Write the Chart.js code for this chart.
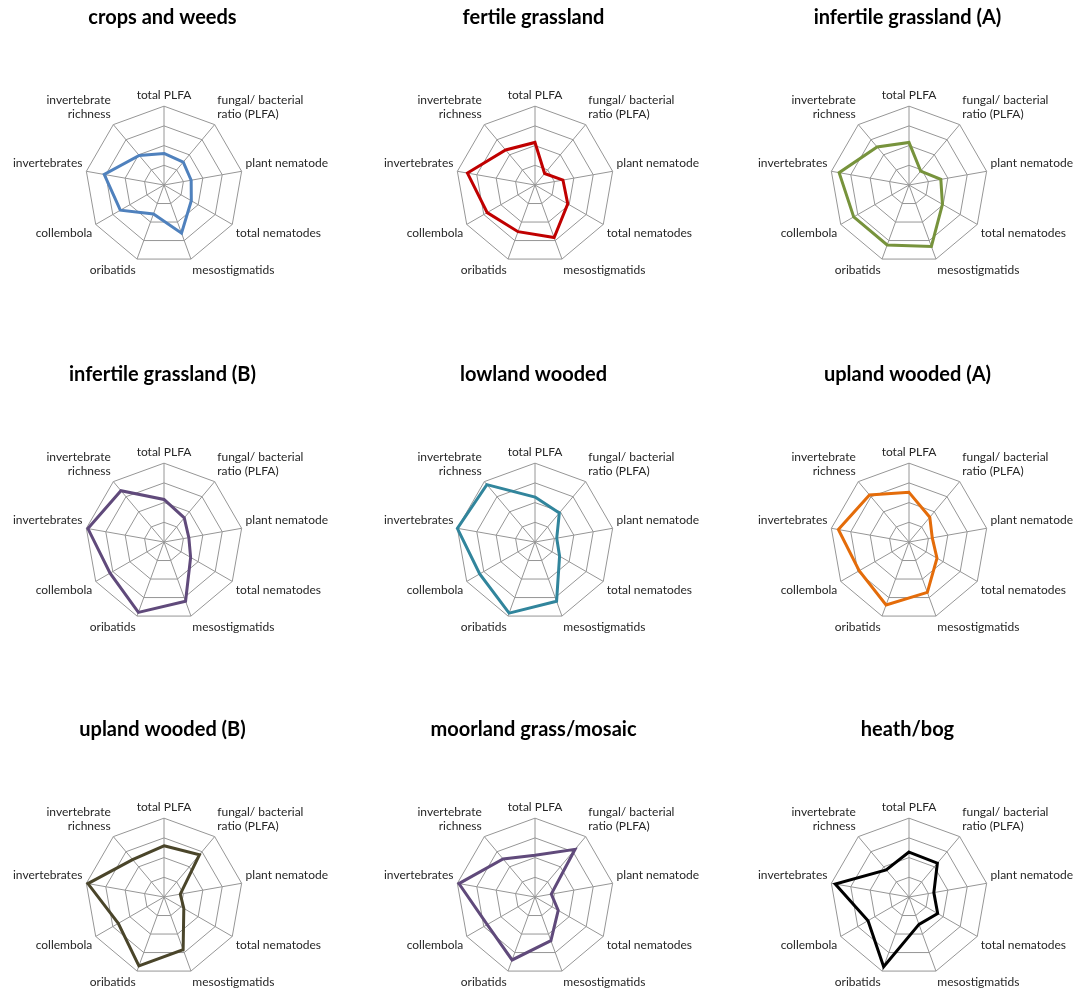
<!DOCTYPE html>
<html>
<head>
<meta charset="utf-8">
<script src="https://cdn.jsdelivr.net/npm/chart.js@4.4.0/dist/chart.umd.min.js"></script>
<style>
  html, body { margin: 0; padding: 0; background: #fff; overflow: hidden; }
  #page { position: relative; width: 1077px; height: 988px; overflow: hidden; }
  .cell { position: absolute; width: 359px; height: 350px; }
</style>
</head>
<body>
<div id="page"></div>
<script>
// axis names, clockwise from the top
const axisLabels = [
  'total PLFA',
  ['fungal/ bacterial', 'ratio (PLFA)'],
  'plant nematode',
  'total nematodes',
  'mesostigmatids',
  'oribatids',
  'collembola',
  'invertebrates',
  ['invertebrate', 'richness']
];

// values (scale 0..1)
const cropsAndWeeds      = [0.40, 0.38, 0.35, 0.40, 0.65, 0.39, 0.64, 0.77, 0.49];
const fertileGrassland   = [0.54, 0.19, 0.36, 0.48, 0.71, 0.63, 0.70, 0.87, 0.58];
const infertileGrassA    = [0.54, 0.23, 0.41, 0.49, 0.83, 0.81, 0.81, 0.90, 0.63];
const infertileGrassB    = [0.54, 0.40, 0.32, 0.39, 0.80, 0.95, 0.79, 0.98, 0.85];
const lowlandWooded      = [0.57, 0.48, 0.28, 0.36, 0.80, 0.96, 0.81, 1.00, 0.95];
const uplandWoodedA      = [0.63, 0.41, 0.30, 0.41, 0.68, 0.85, 0.73, 0.91, 0.78];
const uplandWoodedB      = [0.65, 0.70, 0.21, 0.29, 0.71, 0.93, 0.67, 0.98, 0.62];
const moorlandGrass      = [0.53, 0.79, 0.21, 0.34, 0.59, 0.85, 0.70, 0.98, 0.63];
const heathBog           = [0.57, 0.56, 0.32, 0.42, 0.37, 0.94, 0.60, 0.95, 0.45];

const titles = [
  'crops and weeds', 'fertile grassland', 'infertile grassland (A)',
  'infertile grassland (B)', 'lowland wooded', 'upland wooded (A)',
  'upland wooded (B)', 'moorland grass/mosaic', 'heath/bog'
];
const seriesList = [
  cropsAndWeeds, fertileGrassland, infertileGrassA,
  infertileGrassB, lowlandWooded, uplandWoodedA,
  uplandWoodedB, moorlandGrass, heathBog
];
const colors = [
  '#4F81BD', '#C00000', '#77933C',
  '#604A7B', '#31859C', '#E46C0A',
  '#4A452A', '#604A7B', '#000000'
];

const colLeft = [-17, 354, 728];
const rowTop = [3, 360, 715];

const page = document.getElementById('page');

for (let i = 0; i < 9; i++) {
  const div = document.createElement('div');
  div.className = 'cell';
  div.style.left = colLeft[i % 3] + 'px';
  div.style.top = rowTop[Math.floor(i / 3)] + 'px';
  const canvas = document.createElement('canvas');
  canvas.width = 359;
  canvas.height = 350;
  div.appendChild(canvas);
  page.appendChild(div);

  new Chart(canvas.getContext('2d'), {
    type: 'radar',
    data: {
      labels: axisLabels,
      datasets: [{
        data: seriesList[i],
        borderColor: colors[i],
        borderWidth: 3,
        fill: false,
        pointRadius: 0,
        tension: 0
      }]
    },
    options: {
      responsive: false,
      animation: false,
      devicePixelRatio: 1,
      layout: { padding: { left: 7, right: 7, top: 0, bottom: 21 } },
      plugins: {
        // empty legend on the left, only used to keep the web centred under the title
        legend: {
          display: true,
          position: 'left',
          labels: { padding: 7, filter: () => false }
        },
        tooltip: { enabled: false },
        title: {
          display: true,
          text: titles[i],
          color: '#000',
          font: { family: 'Lato', size: 20, weight: 'bold' },
          padding: { top: 3, bottom: 0 }
        }
      },
      scales: {
        r: {
          min: 0,
          max: 1,
          ticks: { display: false, stepSize: 0.25 },
          grid: { color: '#969696', lineWidth: 1 },
          angleLines: { color: '#969696', lineWidth: 1 },
          pointLabels: {
            color: '#262626',
            font: { family: 'Lato', size: 12 },
            padding: 4
          }
        }
      }
    }
  });
}
</script>
</body>
</html>
